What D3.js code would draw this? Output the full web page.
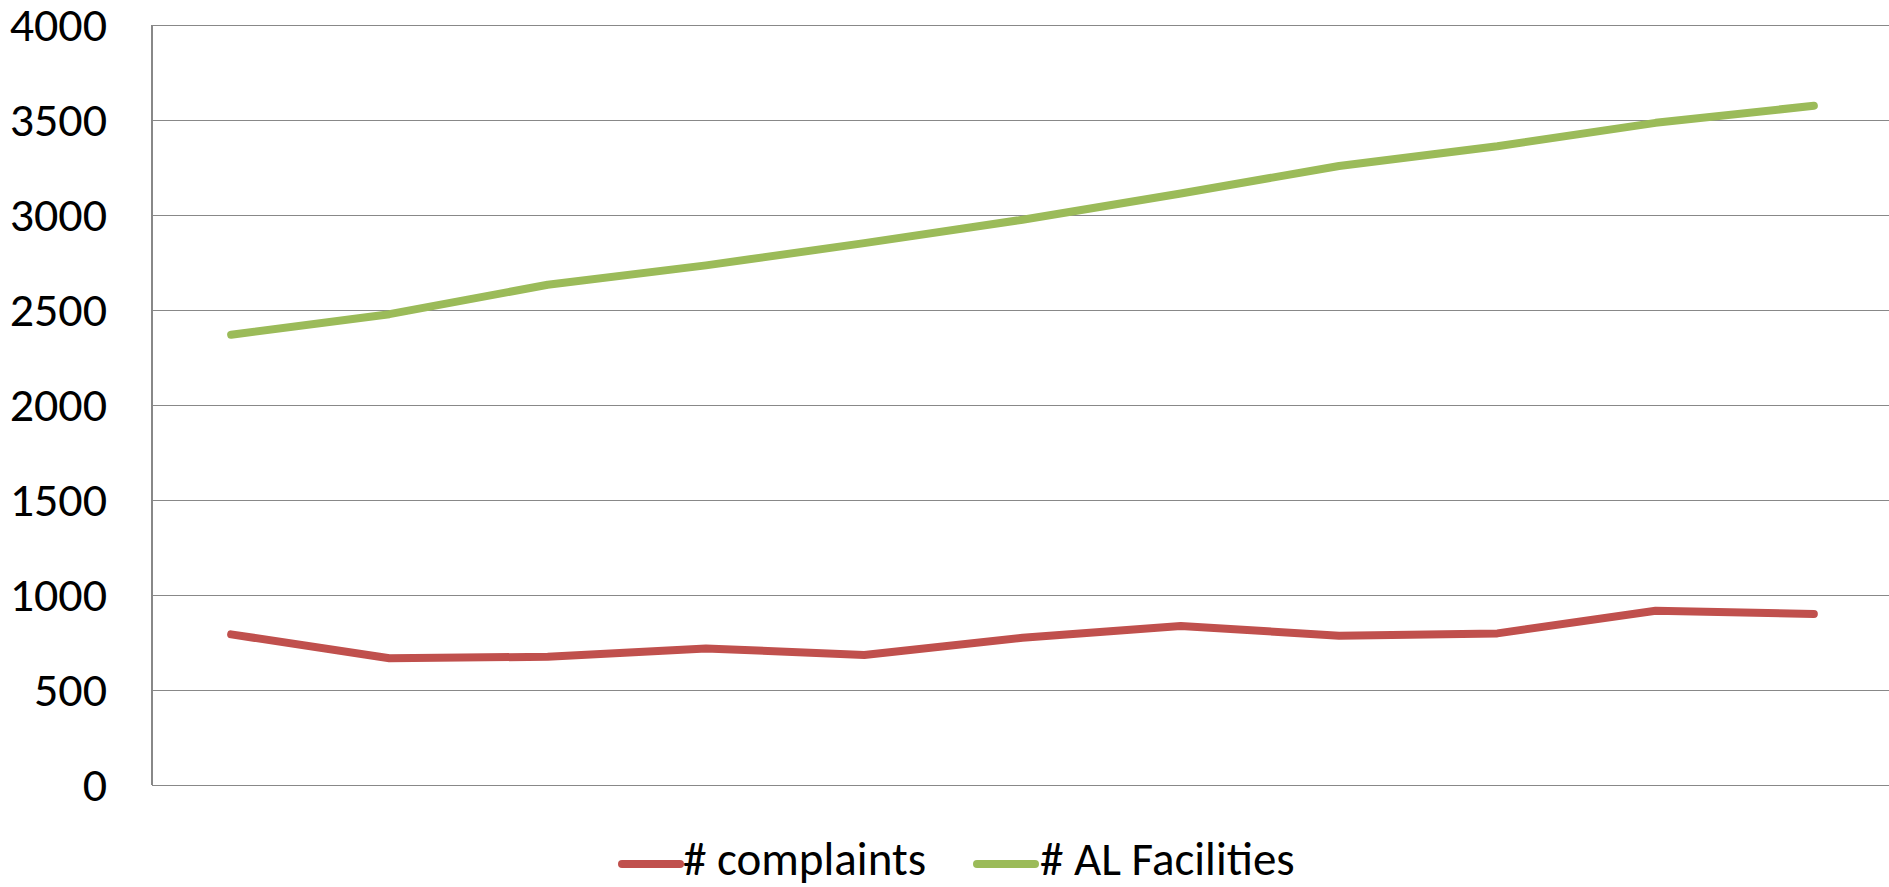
<!DOCTYPE html>
<html>
<head>
<meta charset="utf-8">
<script src="https://cdn.jsdelivr.net/npm/d3@7/dist/d3.min.js"></script>
<style>
  html, body { margin: 0; padding: 0; background: #fff; }
  svg { display: block; }
  text { font-family: Carlito, Lato, "Open Sans", sans-serif; fill: #000; }
</style>
</head>
<body>
<svg id="chart" width="1889" height="887"></svg>
<script>
// Periods along the horizontal axis (not labelled on the chart)
const categories = ["1", "2", "3", "4", "5", "6", "7", "8", "9", "10", "11"];

// Series values
const complaints   = [793, 667, 675, 719, 684, 775, 837, 786, 798, 917, 900];
const alFacilities = [2370, 2478, 2633, 2735, 2852, 2975, 3113, 3258, 3362, 3485, 3575];

// Value axis ticks
const yTicks = [0, 500, 1000, 1500, 2000, 2500, 3000, 3500, 4000];

const seriesNames  = ["# complaints", "# AL Facilities"];
const seriesColors = ["#C0504D", "#9BBB59"];
const seriesData   = [complaints, alFacilities];

const W = 1889, H = 887;
const plot = { left: 152, top: 25, right: 1893, bottom: 785 };
const fontSize = 48;

const svg = d3.select("#chart");

const x = d3.scaleBand()
  .domain(categories)
  .range([plot.left, plot.right]);

const y = d3.scaleLinear()
  .domain([0, 4000])
  .range([plot.bottom, plot.top]);

// Horizontal gridlines
svg.append("g")
  .attr("transform", `translate(${plot.left},0)`)
  .call(d3.axisLeft(y).tickValues(yTicks).tickSize(-(W - plot.left)).tickFormat(""))
  .call(g => g.select(".domain").remove())
  .call(g => g.selectAll(".tick line")
    .attr("stroke", "#888")
    .attr("stroke-width", 1.6)
    .attr("shape-rendering", "crispEdges"));

// Vertical axis line
svg.append("line")
  .attr("x1", plot.left).attr("x2", plot.left)
  .attr("y1", y(4000)).attr("y2", y(0))
  .attr("stroke", "#888")
  .attr("stroke-width", 1.6)
  .attr("shape-rendering", "crispEdges");

// Value axis labels
svg.append("g")
  .attr("transform", `translate(${plot.left},0)`)
  .call(d3.axisLeft(y).tickValues(yTicks).tickSize(0).tickPadding(45).tickFormat(d3.format("d")))
  .call(g => g.select(".domain").remove())
  .call(g => g.selectAll(".tick text")
    .attr("font-size", fontSize)
    .attr("font-family", "Carlito, Lato, 'Open Sans', sans-serif")
    .attr("fill", "#000"));

// Series lines
const line = d3.line()
  .x((d, i) => x(categories[i]) + x.bandwidth() / 2)
  .y(d => y(d));

seriesData.forEach((vals, k) => {
  svg.append("path")
    .datum(vals)
    .attr("d", line)
    .attr("fill", "none")
    .attr("stroke", seriesColors[k])
    .attr("stroke-width", 8)
    .attr("stroke-linecap", "round")
    .attr("stroke-linejoin", "round");
});

// Legend
const legendY = 864;
const legendBaseline = 875;
const legendItems = [
  { x0: 622, x1: 680, tx: 683 },
  { x0: 977, x1: 1035, tx: 1040 }
];
legendItems.forEach((it, k) => {
  svg.append("line")
    .attr("x1", it.x0).attr("x2", it.x1)
    .attr("y1", legendY).attr("y2", legendY)
    .attr("stroke", seriesColors[k])
    .attr("stroke-width", 8)
    .attr("stroke-linecap", "round");
  svg.append("text")
    .attr("x", it.tx)
    .attr("y", legendBaseline)
    .attr("font-size", 47)
    .text(seriesNames[k]);
});
</script>
</body>
</html>
